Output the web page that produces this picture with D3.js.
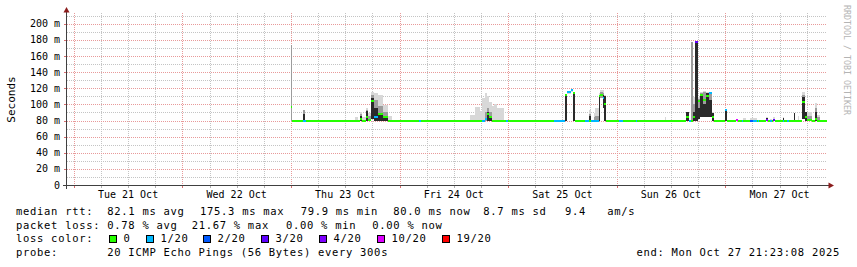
<!DOCTYPE html>
<html>
<head>
<meta charset="utf-8">
<script src="https://cdn.jsdelivr.net/npm/d3@7"></script>
<style>
  html, body { margin: 0; padding: 0; background: #fff; }
  svg { display: block; }
  text { font-family: "DejaVu Sans Mono", monospace; fill: #000; white-space: pre; }
</style>
</head>
<body>
<script>
// hours since Tue 21 Oct 00:00, one sample lasts until the next one starts
const sampleHours = [
  48.0, 48.25, 50.6, 51.1, 51.4,
  62.2, 62.8, 63.2, 63.7, 64.5, 65.0, 65.7, 66.4, 67.2, 68.4, 69.5, 70.3, 76.4, 76.8,
  87.6, 88.7, 89.9, 90.2, 90.9, 91.3, 91.8, 92.4, 92.9, 93.6, 95.1, 95.6, 96.0,
  106.2, 108.6, 109.0, 110.0, 110.4, 110.8, 113.0, 113.9, 114.3, 114.9, 115.3, 116.0, 116.4, 117.0, 117.3, 117.7, 120.5, 121.5, 124.3, 124.6,
  130.7, 131.0, 135.4, 136.0, 136.4, 136.8, 137.4, 137.9, 138.5, 139.1, 139.8, 140.4, 141.1, 141.5, 143.9, 144.4,
  146.4, 146.8, 147.7, 148.0, 148.6, 149.5, 150.2, 151.0, 151.2, 151.5, 153.0, 153.4, 153.9, 154.3, 154.6, 155.0,
  156.7, 157.1, 157.7, 158.0, 159.2, 159.5, 160.1, 160.3, 161.0, 161.7, 162.1, 163.2, 163.8, 164.3, 165.0
];
// median rtt, ms
const medianMs = [
  97, 80, 80, 80, 80,
  80, 80, 82, 80, 84, 81, 104, 84, 88, 84, 80, 80, 80, 80,
  80, 80, 80, 80, 82, 88, 84, 80, 80, 80, 80, 80, 80,
  80, 112, 115, 118, 114, 80, 80, 80, 80, 80, 80, 110, 112, 108, 100, 80, 80, 80, 80, 80,
  80, 80, 84, 80, 80, 84, 177, 104, 112, 105, 110, 114, 84, 80, 93, 80,
  81, 80, 80, 80, 80, 80, 80, 80, 80, 80, 81, 80, 80, 80, 81, 80,
  80, 80, 80, 80, 80, 80, 80, 80, 103, 84, 81, 80, 82, 80, 80
];
// lost pings out of 20
const lossPings = [
  0, 0, 1, 1, 0,
  0, 0, 0, 0, 0, 0, 0, 1, 0, 0, 0, 0, 1, 0,
  0, 0, 0, 1, 1, 0, 0, 0, 0, 0, 0, 1, 0,
  1, 0, 1, 1, 0, 0, 1, 0, 1, 1, 1, 0, 0, 1, 0, 0, 1, 0, 1, 0,
  0, 0, 0, 1, 0, 0, 3, 0, 0, 0, 0, 1, 0, 0, 1, 0,
  10, 0, 1, 0, 0, 2, 1, 0, 1, 0, 4, 0, 1, 0, 3, 0,
  1, 0, 1, 0, 0, 0, 0, 0, 0, 0, 0, 0, 0, 0, 0
];
// smoke: fastest ping, slowest ping, upper mid band, dense core top (0 = none)
const smokeLow = [
  80, 0, 80, 0, 0,
  80, 0, 80, 80, 80, 80, 82, 80, 80, 80, 80, 0, 0, 0,
  80, 80, 80, 80, 80, 80, 80, 80, 80, 80, 0, 0, 0,
  0, 80, 113, 115, 80, 0, 0, 80, 0, 80, 80, 80, 108, 96, 80, 0, 0, 0, 0, 0,
  80, 0, 80, 0, 80, 80, 80, 82, 85, 84, 84, 84, 80, 0, 80, 0,
  0, 0, 0, 80, 0, 80, 80, 0, 0, 0, 80, 0, 80, 0, 80, 0,
  80, 0, 0, 0, 80, 0, 80, 0, 82, 80, 80, 0, 80, 80, 0
];
const smokeTop = [
  174, 0, 93, 0, 0,
  84, 0, 91, 85, 95, 89, 115, 114, 112, 99, 86, 0, 0, 0,
  87, 97, 92, 108, 114, 110, 103, 98, 101, 96, 0, 0, 0,
  0, 113, 116, 119, 116, 0, 0, 93, 0, 89, 96, 114, 118, 118, 112, 0, 0, 0, 0, 0,
  84, 0, 91, 0, 178, 109, 178, 109, 115, 117, 115, 115, 90, 0, 94, 0,
  0, 0, 0, 83, 0, 83, 83, 0, 0, 0, 84, 0, 82, 0, 84, 0,
  84, 0, 0, 0, 89, 0, 86, 0, 116, 91, 91, 0, 102, 87, 0
];
const smokeMid = [
  174, 0, 93, 0, 0,
  0, 0, 88, 0, 93, 86, 112, 106, 98, 90, 0, 0, 0, 0,
  0, 0, 0, 0, 90, 95, 90, 0, 0, 0, 0, 0, 0,
  0, 112, 0, 0, 115, 0, 0, 88, 0, 85, 86, 112, 116, 114, 110, 0, 0, 0, 0, 0,
  0, 0, 88, 0, 178, 100, 178, 107, 114, 115, 114, 114, 89, 0, 93, 0,
  0, 0, 0, 0, 0, 0, 0, 0, 0, 0, 83, 0, 0, 0, 0, 0,
  83, 0, 0, 0, 89, 0, 0, 0, 112, 90, 86, 0, 96, 84, 0
];
const smokeCore = [
  0, 0, 88, 0, 0,
  0, 0, 86, 0, 92, 0, 108, 96, 88, 84, 0, 0, 0, 0,
  0, 0, 0, 0, 0, 91, 86, 0, 0, 0, 0, 0, 0,
  0, 112, 0, 0, 114, 0, 0, 86, 0, 0, 0, 110, 0, 112, 110, 0, 0, 0, 0, 0,
  0, 0, 90, 0, 0, 90, 177, 96, 113, 101, 114, 106, 89, 0, 93, 0,
  0, 0, 0, 0, 0, 0, 0, 0, 0, 0, 83, 0, 0, 0, 0, 0,
  83, 0, 0, 0, 89, 0, 0, 0, 109, 90, 0, 0, 91, 0, 0
];

const lossLevels = [0, 1, 2, 3, 4, 10, 19];
const lossLabels = ['0', '1/20', '2/20', '3/20', '4/20', '10/20', '19/20'];
const lossColors = ['#26ff00', '#00b8ff', '#0059ff', '#5e00ff', '#7e00ff', '#dd00ff', '#ff0000'];

const dayLabels = ['Tue 21 Oct', 'Wed 22 Oct', 'Thu 23 Oct', 'Fri 24 Oct', 'Sat 25 Oct', 'Sun 26 Oct', 'Mon 27 Oct'];
const yTicks = [0, 20, 40, 60, 80, 100, 120, 140, 160, 180, 200];
const yTickLabels = ['0', '20 m', '40 m', '60 m', '80 m', '100 m', '120 m', '140 m', '160 m', '180 m', '200 m'];

const rttStats = ['82.1 ms avg', '175.3 ms max', '79.9 ms min', '80.0 ms now', '8.7 ms sd', '9.4   am/s'];
const lossStats = ['0.78 % avg', '21.67 % max', '0.00 % min', '0.00 % now'];
const probeText = '20 ICMP Echo Pings (56 Bytes) every 300s';
const endText = 'end: Mon Oct 27 21:23:08 2025';

const width = 857, height = 267;
const hStart = -1.5, hEnd = 166.5;

const x = d3.scaleLinear().domain([hStart, hEnd]).range([67, 827]);
const y = d3.scaleLinear().domain([0, 213.5]).range([185, 13]);
const lossColor = d3.scaleThreshold().domain(lossLevels.slice(1)).range(lossColors);

const svg = d3.select('body').append('svg')
    .attr('width', width).attr('height', height);

// grid
const grid = svg.append('g').attr('shape-rendering', 'crispEdges')
    .attr('stroke-width', 1).attr('stroke-dasharray', '1,1');

const gridHours = d3.range(0, hEnd, 6);
grid.selectAll('line.v').data(gridHours).join('line')
    .attr('x1', d => Math.round(x(d)) + 0.5).attr('x2', d => Math.round(x(d)) + 0.5)
    .attr('y1', y(213.5)).attr('y2', y(0))
    .attr('stroke', d => d % 24 ? '#c4c4c4' : '#e89a9a');

const gridMs = d3.range(10, 211, 10);
grid.selectAll('line.h').data(gridMs).join('line')
    .attr('x1', 67).attr('x2', 827)
    .attr('y1', d => Math.round(y(d)) + 0.5).attr('y2', d => Math.round(y(d)) + 0.5)
    .attr('stroke', d => d % 20 ? '#c4c4c4' : '#e89a9a');

// smoke and median
const n = sampleHours.length;
const idx = d3.range(n);
const x0 = i => Math.round(x(sampleHours[i]));
const w = i => Math.max(1, Math.round(x(i + 1 < n ? sampleHours[i + 1] : hEnd)) - x0(i));

const data = svg.append('g').attr('shape-rendering', 'crispEdges');

function smokeLayer(tops, fill) {
  data.append('g').selectAll('rect')
    .data(idx.filter(i => tops[i] > 0 && smokeLow[i] > 0))
    .join('rect')
      .attr('x', x0).attr('width', w)
      .attr('y', i => Math.round(y(tops[i])))
      .attr('height', i => Math.max(1, Math.round(y(smokeLow[i])) - Math.round(y(tops[i]))))
      .attr('fill', fill);
}
smokeLayer(smokeTop, '#d8d8d8');
smokeLayer(smokeMid, '#9c9c9c');
smokeLayer(smokeCore, '#2a2a2a');

data.append('g').selectAll('rect')
  .data(idx)
  .join('rect')
    .attr('x', x0).attr('width', w)
    .attr('y', i => Math.round(y(medianMs[i])) - 1)
    .attr('height', 2)
    .attr('fill', i => lossColor(lossPings[i]));

// axes
const axis = svg.append('g').attr('shape-rendering', 'crispEdges');
axis.append('line').attr('x1', 66.5).attr('x2', 66.5).attr('y1', 11).attr('y2', 189).attr('stroke', '#404040');
axis.append('line').attr('x1', 63).attr('x2', 829).attr('y1', 185.5).attr('y2', 185.5).attr('stroke', '#404040');
axis.selectAll('line.xt').data(gridHours).join('line')
    .attr('x1', d => Math.round(x(d)) + 0.5).attr('x2', d => Math.round(x(d)) + 0.5)
    .attr('y1', 186).attr('y2', 188)
    .attr('stroke', d => d % 24 ? '#b0b0b0' : '#d87070');
axis.selectAll('line.yt').data(yTicks.slice(1)).join('line')
    .attr('x1', 64).attr('x2', 66)
    .attr('y1', d => Math.round(y(d)) + 0.5).attr('y2', d => Math.round(y(d)) + 0.5)
    .attr('stroke', '#d87070');

svg.append('path').attr('d', 'M66.5,7 L63.5,12.5 L69.5,12.5 Z').attr('fill', '#8b1c1c');
svg.append('path').attr('d', 'M834,185.5 L828.5,182.5 L828.5,188.5 Z').attr('fill', '#8b1c1c');

// tick labels
svg.append('g').selectAll('text').data(yTicks).join('text')
    .attr('x', 60).attr('y', d => y(d) + 3.5)
    .attr('text-anchor', 'end').attr('font-size', '10px')
    .text((d, i) => yTickLabels[i]);

svg.append('g').selectAll('text').data(dayLabels).join('text')
    .attr('x', (d, i) => x(12 + 24 * i)).attr('y', 197.5)
    .attr('text-anchor', 'middle').attr('font-size', '10px')
    .text(d => d);

svg.append('text')
    .attr('transform', 'translate(15,99.5) rotate(-90)')
    .attr('text-anchor', 'middle').attr('font-size', '11px')
    .text('Seconds');

svg.append('text')
    .attr('transform', 'translate(844,5) rotate(90)')
    .attr('font-size', '8.3px')
    .style('fill', '#b4b4b4')
    .text('RRDTOOL / TOBI OETIKER');

// legend
const legend = svg.append('g').attr('font-size', '10.5px').attr('letter-spacing', '0.7px');
const row = (tx, ty, s) => legend.append('text').attr('x', tx).attr('y', ty).text(s);

row(16, 215, 'median rtt:');
[107.3, 200, 300.7, 393.3, 483.3, 565].forEach((px, i) => row(px, 215, rttStats[i]));
row(16, 228.5, 'packet loss:');
[107.3, 191.7, 286, 372.3].forEach((px, i) => row(px, 228.5, lossStats[i]));
row(16, 242, 'loss color:');
const boxX = [109, 146, 203, 261, 319, 377, 442];
legend.selectAll('rect').data(lossLabels).join('rect')
    .attr('x', (d, i) => boxX[i] + 0.5).attr('y', 235.5)
    .attr('width', 7).attr('height', 7)
    .attr('fill', (d, i) => lossColors[i])
    .attr('stroke', '#000').attr('stroke-width', 1)
    .attr('shape-rendering', 'crispEdges');
lossLabels.forEach((s, i) => row(boxX[i] + 14.5, 242, s));
row(16, 255.5, 'probe:');
row(107.3, 255.5, probeText);
legend.append('text').attr('x', 840).attr('y', 255.5).attr('text-anchor', 'end').text(endText);
</script>
</body>
</html>
